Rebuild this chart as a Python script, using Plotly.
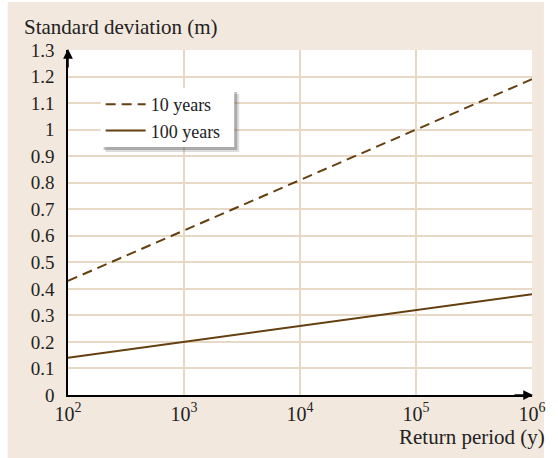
import plotly.graph_objects as go

return_period = [1e2, 1e3, 1e4, 1e5, 1e6]
sd_10_years = [0.43, 0.62, 0.81, 1.00, 1.19]
sd_100_years = [0.14, 0.20, 0.26, 0.32, 0.38]
x_tick_vals = [1e2, 1e3, 1e4, 1e5, 1e6]
x_tick_text = ["10<sup>2</sup>", "10<sup>3</sup>", "10<sup>4</sup>", "10<sup>5</sup>", "10<sup>6</sup>"]
y_tick_vals = [0, 0.1, 0.2, 0.3, 0.4, 0.5, 0.6, 0.7, 0.8, 0.9, 1.0, 1.1, 1.2, 1.3]
y_tick_text = ["0", "0.1", "0.2", "0.3", "0.4", "0.5", "0.6", "0.7", "0.8", "0.9", "1", "1.1", "1.2", "1.3"]

LINE = "#643f10"
GRID = "#e8d9c6"
BEIGE = "#f2e8de"
FONT = "Liberation Serif"
TXT = "#222222"

W, H = 558, 458
ml, mr, mt, mb = 68, 21, 50, 63
pw, ph = W - ml - mr, H - mt - mb

def px2x(px):
    return (px - ml) / pw

def px2y(py):
    return (H - mb - py) / ph

fig = go.Figure()
fig.add_trace(go.Scatter(x=return_period, y=sd_10_years, mode="lines", name="10 years",
                         line=dict(color=LINE, width=2, dash="10px,6px")))
fig.add_trace(go.Scatter(x=return_period, y=sd_100_years, mode="lines", name="100 years",
                         line=dict(color=LINE, width=2)))

shapes = [
    dict(type="rect", xref="paper", yref="paper", x0=px2x(7), x1=px2x(549), y0=px2y(2), y1=px2y(460),
         fillcolor=BEIGE, line=dict(width=0), layer="below"),
    dict(type="rect", xref="paper", yref="paper", x0=0, x1=1, y0=0, y1=1,
         fillcolor="white", line=dict(width=0), layer="below"),
    # legend shadow and box
    dict(type="rect", xref="paper", yref="paper", x0=px2x(106), x1=px2x(241), y0=px2y(94), y1=px2y(152),
         fillcolor="rgba(60,60,60,0.18)", line=dict(width=0), layer="above"),
    dict(type="rect", xref="paper", yref="paper", x0=px2x(104), x1=px2x(239), y0=px2y(92), y1=px2y(150),
         fillcolor="rgba(60,60,60,0.30)", line=dict(width=0), layer="above"),
    dict(type="rect", xref="paper", yref="paper", x0=px2x(101), x1=px2x(236), y0=px2y(88), y1=px2y(147),
         fillcolor="white", line=dict(width=0), layer="above"),
]

annotations = [
    dict(text="Standard deviation (m)", xref="paper", yref="paper", x=px2x(21), y=px2y(27),
         xanchor="left", yanchor="middle", showarrow=False, font=dict(family=FONT, size=21, color=TXT)),
    dict(text="Return period (y)", xref="paper", yref="paper", x=px2x(552), y=px2y(437),
         xanchor="right", yanchor="middle", showarrow=False, font=dict(family=FONT, size=21, color=TXT)),
    dict(text="", xref="paper", yref="paper", x=0, y=px2y(49), ax=0, ay=20, axref="pixel", ayref="pixel",
         showarrow=True, arrowhead=2, arrowsize=1.3, arrowwidth=1.5, arrowcolor="black"),
    dict(text="", xref="paper", yref="paper", x=px2x(538), y=0, ax=-20, ay=0,
         showarrow=True, arrowhead=2, arrowsize=1.3, arrowwidth=1.5, arrowcolor="black"),
]

fig.update_layout(
    width=W, height=H,
    margin=dict(l=ml, r=mr, t=mt, b=mb, pad=0),
    paper_bgcolor="white", plot_bgcolor="white",
    font=dict(family=FONT, size=18, color=TXT),
    showlegend=True,
    legend=dict(x=px2x(101), y=px2y(86), xanchor="left", yanchor="top",
                bgcolor="rgba(0,0,0,0)", borderwidth=0, font=dict(family=FONT, size=18, color=TXT),
                tracegroupgap=0, itemwidth=40),
    shapes=shapes,
    annotations=annotations,
)
fig.update_xaxes(type="log", range=[2, 6], tickvals=x_tick_vals, ticktext=x_tick_text,
                 showgrid=True, gridcolor=GRID, gridwidth=1.5, showline=True, linecolor="black",
                 linewidth=1.5, ticks="", zeroline=False, tickfont=dict(size=20))
fig.update_yaxes(range=[0, 1.3], tickvals=y_tick_vals, ticktext=y_tick_text,
                 showgrid=True, gridcolor=GRID, gridwidth=1.5, showline=True, linecolor="black",
                 linewidth=1.5, ticks="", zeroline=False, tickfont=dict(size=19), ticklabelstandoff=8)

fig.write_html("out.html")
